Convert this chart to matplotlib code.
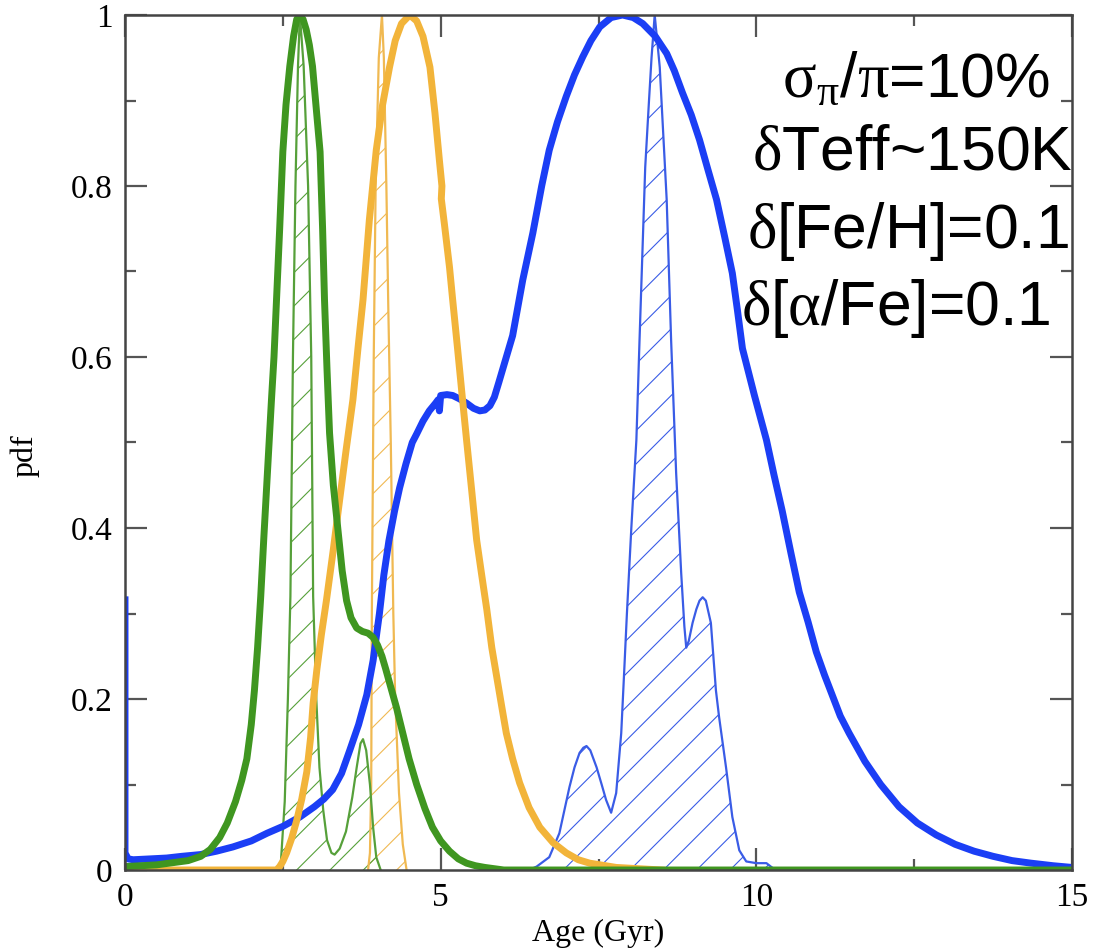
import matplotlib
matplotlib.use("Agg")
import matplotlib.pyplot as plt
from matplotlib.ticker import MultipleLocator

# ---- data ----
# thick curves
blue_x = [0.0, 0.0, 0.05, 0.13, 0.4, 0.66, 0.9, 1.19, 1.45, 1.71, 2.0, 2.25, 2.5, 2.77, 3.0,
          3.15, 3.29, 3.43, 3.56, 3.70, 3.83, 3.93, 4.03, 4.10, 4.18, 4.27, 4.35, 4.45, 4.55,
          4.62, 4.72, 4.82, 4.92, 4.96, 4.98, 5.0, 5.1, 5.19, 5.3, 5.41, 5.52, 5.62, 5.70, 5.78,
          5.85, 5.92, 5.98, 6.04, 6.14, 6.3, 6.46, 6.6, 6.72, 6.85, 6.99, 7.12, 7.25, 7.38, 7.52,
          7.7, 7.88, 8.05, 8.20, 8.4, 8.58, 8.7, 8.83, 8.97, 9.10, 9.23, 9.37, 9.5, 9.62, 9.70,
          9.78, 9.97, 10.16, 10.28, 10.41, 10.55, 10.68, 10.82, 10.95, 11.08, 11.2, 11.33, 11.47,
          11.72, 11.97, 12.26, 12.55, 12.85, 13.15, 13.45, 13.75, 14.05, 14.35, 14.7, 15.0]
blue_y = [0.316, 0.02, 0.013, 0.012, 0.013, 0.014, 0.016, 0.018, 0.022, 0.027, 0.034, 0.043,
          0.051, 0.062, 0.074, 0.083, 0.094, 0.113, 0.14, 0.17, 0.205, 0.245, 0.30, 0.345, 0.385,
          0.42, 0.447, 0.475, 0.50, 0.51, 0.525, 0.537, 0.546, 0.55, 0.537, 0.555, 0.556, 0.555,
          0.551, 0.546, 0.54, 0.537, 0.538, 0.543, 0.553, 0.57, 0.585, 0.60, 0.625, 0.69, 0.745,
          0.80, 0.842, 0.875, 0.905, 0.93, 0.951, 0.97, 0.986, 0.997, 1.0, 0.997, 0.99, 0.975,
          0.955, 0.935, 0.909, 0.883, 0.854, 0.82, 0.784, 0.74, 0.698, 0.655, 0.61, 0.555, 0.503,
          0.462, 0.42, 0.37, 0.325, 0.29, 0.255, 0.228, 0.205, 0.18, 0.16, 0.127, 0.10, 0.074,
          0.055, 0.041, 0.03, 0.022, 0.016, 0.011, 0.008, 0.005, 0.003]

yellow_x = [0.0, 2.40, 2.45, 2.50, 2.56, 2.64, 2.72, 2.80, 2.88, 2.94, 2.98, 3.04, 3.11, 3.19,
            3.30, 3.40, 3.50, 3.61, 3.69, 3.77, 3.87, 3.98, 4.08, 4.19, 4.28, 4.38, 4.51, 4.62,
            4.72, 4.83, 4.91, 4.98, 5.02, 5.01, 5.06, 5.14, 5.19, 5.27, 5.34, 5.41, 5.49, 5.57,
            5.65, 5.73, 5.81, 5.89, 5.97, 6.04, 6.14, 6.25, 6.40, 6.57, 6.78, 6.99, 7.18, 7.36,
            7.78, 8.5]
yellow_y = [0.0, 0.0, 0.004, 0.01, 0.02, 0.037, 0.058, 0.083, 0.115, 0.155, 0.195, 0.235, 0.275,
            0.315, 0.375, 0.433, 0.49, 0.55, 0.61, 0.667, 0.76, 0.842, 0.895, 0.939, 0.97, 0.99,
            1.0, 0.993, 0.975, 0.939, 0.885, 0.83, 0.80, 0.785, 0.755, 0.705, 0.667, 0.608, 0.555,
            0.503, 0.445, 0.386, 0.345, 0.305, 0.26, 0.225, 0.19, 0.16, 0.13, 0.102, 0.073, 0.05,
            0.032, 0.02, 0.012, 0.008, 0.003, 0.0]

green_x = [0.0, 0.5, 1.0, 1.2, 1.35, 1.5, 1.62, 1.75, 1.85, 1.93, 2.0, 2.05, 2.1, 2.15, 2.2,
           2.26, 2.32, 2.36, 2.40, 2.45, 2.50, 2.55, 2.61, 2.67, 2.72, 2.77, 2.82, 2.87, 2.92,
           2.97, 3.03, 3.09, 3.13, 3.16, 3.20, 3.24, 3.30, 3.37, 3.44, 3.51, 3.58, 3.67, 3.76,
           3.85, 3.93, 4.0, 4.07, 4.13, 4.19, 4.3, 4.4, 4.5, 4.62, 4.75, 4.87, 5.0, 5.14, 5.28,
           5.41, 5.55, 5.7, 6.0, 15.0]
green_y = [0.004, 0.006, 0.011, 0.016, 0.024, 0.038, 0.055, 0.08, 0.105, 0.13, 0.17, 0.21, 0.26,
           0.32, 0.39, 0.47, 0.55, 0.60, 0.667, 0.75, 0.84, 0.895, 0.94, 0.975, 0.995, 1.0, 0.995,
           0.983, 0.965, 0.94, 0.89, 0.84, 0.75, 0.667, 0.585, 0.511, 0.45, 0.40, 0.35, 0.315,
           0.295, 0.283, 0.279, 0.277, 0.272, 0.263, 0.25, 0.235, 0.219, 0.19, 0.16, 0.13, 0.10,
           0.072, 0.05, 0.034, 0.022, 0.013, 0.008, 0.005, 0.003, 0.0, 0.0]

# hatched (thin) curves
blue_h_x = [6.40, 6.52, 6.72, 6.88, 7.04, 7.12, 7.20, 7.26, 7.31, 7.37, 7.47, 7.55, 7.62, 7.70,
            7.78, 7.86, 7.91, 7.95, 8.02, 8.10, 8.15, 8.24, 8.30, 8.34, 8.39, 8.43, 8.47, 8.58,
            8.65, 8.73, 8.81, 8.86, 8.89, 8.93, 8.99, 9.05, 9.10, 9.15, 9.20, 9.28, 9.36, 9.41,
            9.52, 9.62, 9.73, 9.84, 10.0, 10.16, 10.3]
blue_h_y = [0.0, 0.004, 0.015, 0.043, 0.097, 0.12, 0.137, 0.143, 0.145, 0.14, 0.12, 0.10, 0.082,
            0.067, 0.09, 0.16, 0.237, 0.30, 0.40, 0.503, 0.62, 0.822, 0.90, 0.95, 1.0, 0.97, 0.939,
            0.784, 0.62, 0.464, 0.347, 0.285, 0.26, 0.268, 0.289, 0.305, 0.315, 0.319, 0.315,
            0.289, 0.21, 0.179, 0.12, 0.062, 0.023, 0.01, 0.008, 0.008, 0.0]

yellow_h_x = [3.85, 3.88, 3.90, 3.91, 3.94, 3.97, 4.02, 4.07, 4.10, 4.14, 4.17, 4.21, 4.25, 4.28,
              4.34, 4.40, 4.46]
yellow_h_y = [0.0, 0.02, 0.1, 0.3, 0.6, 0.8, 0.95, 1.0, 0.95, 0.8, 0.66, 0.5, 0.3, 0.2, 0.09,
              0.03, 0.0]

green_h_x = [2.40, 2.47, 2.53, 2.58, 2.62, 2.66, 2.70, 2.74, 2.77, 2.83, 2.90, 2.95, 2.98, 3.03,
             3.08, 3.14, 3.20, 3.27, 3.32, 3.40, 3.50, 3.60, 3.67, 3.73, 3.77, 3.82, 3.88, 3.93,
             3.98, 4.05]
green_h_y = [0.0, 0.01, 0.08, 0.2, 0.32, 0.6, 0.8, 0.94, 1.0, 0.94, 0.8, 0.6, 0.32, 0.2, 0.12,
             0.07, 0.035, 0.02, 0.018, 0.025, 0.045, 0.085, 0.12, 0.148, 0.153, 0.14, 0.10,
             0.05, 0.015, 0.0]

xticks = [0, 5, 10, 15]
xtick_labels = ["0", "5", "10", "15"]
yticks = [0, 0.2, 0.4, 0.6, 0.8, 1.0]
ytick_labels = ["0", "0.2", "0.4", "0.6", "0.8", "1"]

notes = [r"$\mathrm{\sigma_{\pi}}$/$\mathrm{\pi}$=10%",
         r"$\mathrm{\delta}$Teff~150K",
         r"$\mathrm{\delta}$[Fe/H]=0.1",
         r"$\mathrm{\delta}$[$\mathrm{\alpha}$/Fe]=0.1"]

plt.rcParams['mathtext.fontset'] = 'custom'
plt.rcParams['mathtext.rm'] = 'Liberation Serif'
plt.rcParams['mathtext.it'] = 'Liberation Serif:italic'
plt.rcParams['hatch.linewidth'] = 0.8

W, H = 1095, 951
fig = plt.figure(figsize=(W / 100, H / 100), dpi=100)
ax = fig.add_axes([125 / W, 1 - 870 / H, (1072 - 125) / W, (870 - 15) / H])

c_blue, c_blue_h = '#1b3ef5', '#3a5ce6'
c_yel, c_yel_h = '#f2b43a', '#f0b952'
c_grn, c_grn_h = '#3f9620', '#56a03a'

# hatched posteriors
for hx, hy, col in [(blue_h_x, blue_h_y, c_blue_h), (yellow_h_x, yellow_h_y, c_yel_h),
                    (green_h_x, green_h_y, c_grn_h)]:
    ax.fill_between(hx, hy, 0, facecolor='none', edgecolor=col, hatch='/', linewidth=0)
    ax.plot(hx, hy, color=col, lw=1.6)

# thick curves
ax.plot(blue_x, blue_y, color=c_blue, lw=5, solid_joinstyle='round')
ax.plot(yellow_x, yellow_y, color=c_yel, lw=5, solid_joinstyle='round')
ax.plot(green_x, green_y, color=c_grn, lw=5, solid_joinstyle='round')

ax.set_xlim(0, 15)
ax.set_ylim(0, 1)
ax.set_xticks(xticks)
ax.set_xticklabels(xtick_labels)
ax.set_yticks(yticks)
ax.set_yticklabels(ytick_labels)
ax.xaxis.set_minor_locator(MultipleLocator(2.5))
ax.yaxis.set_minor_locator(MultipleLocator(0.1))
ax.tick_params(which='both', direction='in', top=True, right=True, color='#555555', width=1.6)
ax.tick_params(which='major', length=16, labelsize=24, pad=9)
ax.tick_params(which='minor', length=8)
for lab in ax.get_xticklabels() + ax.get_yticklabels():
    lab.set_family('Liberation Serif')
for sp in ax.spines.values():
    sp.set_color('#444444')
    sp.set_linewidth(1.8)
    sp.set_zorder(5)

ax.set_xlabel('Age (Gyr)', family='Liberation Serif', fontsize=23, labelpad=4)
ax.set_ylabel('pdf', family='Liberation Serif', fontsize=23)
ax.yaxis.set_label_coords(-0.09, 0.485)

# annotation block (right x, baseline y in pixels)
note_pos = [(1050, 97), (1073, 170), (1069, 248), (1051, 325)]
for txt, (px, py) in zip(notes, note_pos):
    fig.text(px / W, 1 - py / H, txt, family='Liberation Sans', fontsize=45,
             ha='right', va='baseline')

fig.savefig('out.png', dpi=100)
